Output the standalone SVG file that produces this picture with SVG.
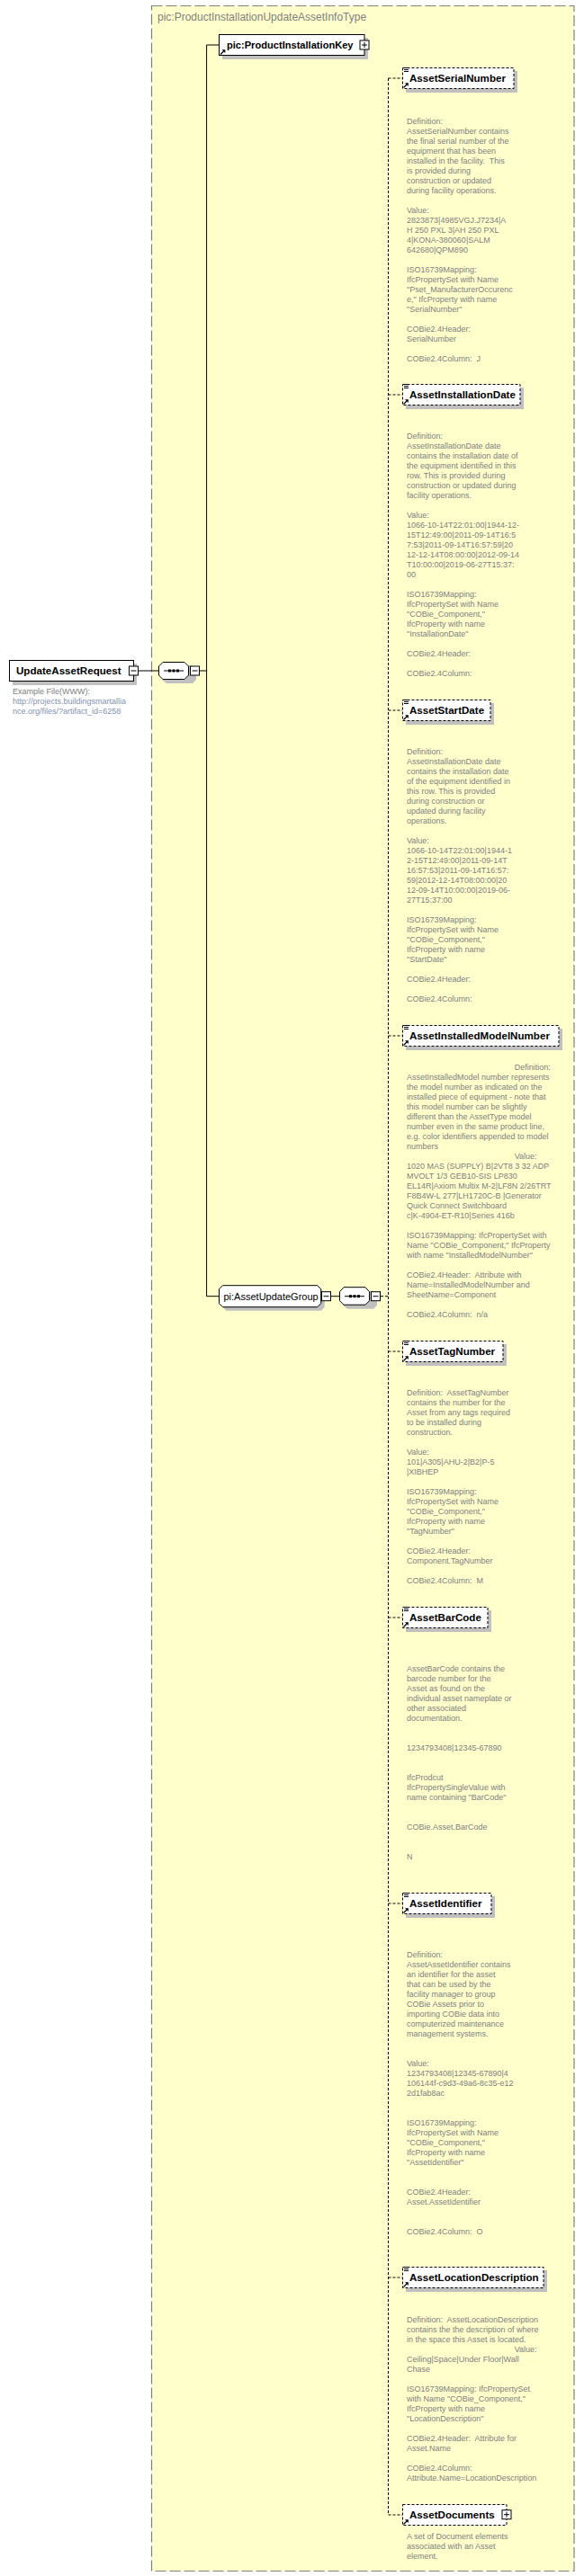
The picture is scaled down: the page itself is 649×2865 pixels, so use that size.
<svg xmlns="http://www.w3.org/2000/svg" xmlns:xlink="http://www.w3.org/1999/xlink" width="649" height="2865" viewBox="0 0 649 2865">
<style>
.d{font-family:"Liberation Sans",Arial,sans-serif;font-size:9px;fill:#808080}
.u{font-family:"Liberation Sans",Arial,sans-serif;font-size:9px;fill:#8393b3}
.n{font-family:"Liberation Sans",Arial,sans-serif;font-size:11.6px;font-weight:bold;fill:#000}
.g{font-family:"Liberation Sans",Arial,sans-serif;font-size:11px;fill:#000}
.t{font-family:"Liberation Sans",Arial,sans-serif;font-size:12px;fill:#808080}
.sh{fill:#c0c0c0}
.opt{fill:#fff;stroke:#000;stroke-width:1;stroke-dasharray:3,2}
.req{fill:#fff;stroke:#000;stroke-width:1}
.c{fill:none;stroke:#000;stroke-width:1}
.cd{fill:none;stroke:#000;stroke-width:1;stroke-dasharray:3,2}
</style>
<defs>
<g id="icoPlus"><rect x="0.5" y="0.5" width="10" height="10" fill="#fff" stroke="#000"/><path d="M2.5 5.5h6M5.5 2.5v6" stroke="#000"/></g>
<g id="icoMinus"><rect x="0.5" y="0.5" width="10" height="10" fill="#fff" stroke="#000"/><path d="M2.5 5.5h6" stroke="#000"/></g>
<g id="refArrow"><path d="M1 6.5L4.5 3" stroke="#000" stroke-width="1.2"/><path d="M2.5 1.2H6.3V5Z" fill="#000"/></g>
<g id="docIco"><path d="M0 0.5h5M0 2.5h5M0 4.5h5" stroke="#000" stroke-width="1"/></g>
</defs>

<rect id="typeBox" x="168.5" y="6.5" width="469.5" height="2853" fill="#ffffcc" stroke="#808080" stroke-width="1.2" stroke-dasharray="12,4"/>
<text class="t" x="175" y="23">pic:ProductInstallationUpdateAssetInfoType</text>

<g id="connectors">
<path class="c" d="M229.6 50V1441.7M229.6 50H243M229.6 1441.7H243.3M153.5 746H176M222 746H229.6M368 1441.7H377"/>
<path class="cd" d="M423 1441.7H431.5M431.5 87V2797M431.5 87H447M431.5 439H447M431.5 790H447M431.5 1152H447M431.5 1503H447M431.5 1799H447M431.5 2117H447M431.5 2533H447M431.5 2797H447"/>
</g>

<g id="UpdateAssetRequest">
<rect class="sh" x="14" y="738" width="138" height="24"/>
<rect class="req" x="10.5" y="734.5" width="138" height="23"/>
<text class="n" x="18" y="750.2">UpdateAssetRequest</text>
<use xlink:href="#icoMinus" x="143" y="740.5"/>
<text class="d" x="14" y="772.3">Example File(WWW):</text>
<text class="u" x="14" y="783.3">http://projects.buildingsmartallia</text>
<text class="u" x="14" y="794.3">nce.org/files/?artifact_id=6258</text>
</g>

<g id="seq1">
<path class="sh" d="M185 740H214L218 745V756L214 760H185L180 756V745Z"/>
<path class="req" d="M181 736.5H205L209.5 741V751L205 755.5H181L176.5 751V741Z"/>
<path d="M182 746H204" stroke="#000"/>
<rect x="187" y="744.5" width="3" height="3"/><rect x="191.5" y="744.5" width="3" height="3"/><rect x="196" y="744.5" width="3" height="3"/>
<use xlink:href="#icoMinus" x="211" y="740.5"/>
</g>

<g id="ProductInstallationKey">
<rect class="sh" x="247" y="42" width="162" height="24"/>
<rect class="req" x="243.5" y="38.5" width="161.5" height="23"/>
<text class="n" x="252" y="54.2" style="font-size:11.1px">pic:ProductInstallationKey</text>
<use xlink:href="#refArrow" x="244" y="54"/>
<use xlink:href="#icoPlus" x="399.5" y="44.5"/>
</g>

<g id="AssetUpdateGroup">
<path class="sh" d="M251.5 1433.7H356.7L360.7 1437.7V1453.7L356.7 1457.7H251.5L247.5 1453.7V1437.7Z"/>
<path class="req" d="M247.5 1429.7H352.7L356.7 1433.7V1449.7L352.7 1453.7H247.5L243.5 1449.7V1433.7Z"/>
<text class="g" x="248.5" y="1445.5">pi:AssetUpdateGroup</text>
<use xlink:href="#icoMinus" x="357" y="1436.2"/>
</g>

<g id="seq2">
<path class="sh" d="M386 1435.7H415L419 1440.7V1451.7L415 1455.7H386L381 1451.7V1440.7Z"/>
<path class="req" d="M382 1431.7H406L410.5 1436.7V1446.7L406 1451.2H382L377.5 1446.7V1436.7Z"/>
<path d="M383 1441.7H405" stroke="#000"/>
<rect x="388" y="1440.2" width="3" height="3"/><rect x="392.5" y="1440.2" width="3" height="3"/><rect x="397" y="1440.2" width="3" height="3"/>
<use xlink:href="#icoMinus" x="412" y="1436.2"/>
</g>

<g id="AssetSerialNumber">
<rect class="sh" x="451" y="79" width="124" height="24"/>
<rect class="opt" x="447.5" y="75.5" width="123.5" height="23"/>
<use xlink:href="#docIco" x="449" y="75"/>
<use xlink:href="#refArrow" x="447.5" y="91"/>
<text class="n" x="455" y="91.2">AssetSerialNumber</text>
<text class="d"><tspan x="452" y="138">Definition:</tspan><tspan x="452" y="149">AssetSerialNumber contains</tspan><tspan x="452" y="160">the final serial number of the</tspan><tspan x="452" y="171">equipment that has been</tspan><tspan x="452" y="182">installed in the facility.&#160; This</tspan><tspan x="452" y="193">is provided during</tspan><tspan x="452" y="204">construction or updated</tspan><tspan x="452" y="215">during facility operations.</tspan><tspan x="452" y="237">Value:</tspan><tspan x="452" y="248">2823873|4985VGJ.J7234|A</tspan><tspan x="452" y="259">H 250 PXL 3|AH 250 PXL</tspan><tspan x="452" y="270">4|KONA-380060|SALM</tspan><tspan x="452" y="281">642680|QPM890</tspan><tspan x="452" y="303">ISO16739Mapping:</tspan><tspan x="452" y="314">IfcPropertySet with Name</tspan><tspan x="452" y="325">"Pset_ManufacturerOccurenc</tspan><tspan x="452" y="336">e," IfcProperty with name</tspan><tspan x="452" y="347">"SerialNumber"</tspan><tspan x="452" y="369">COBie2.4Header:</tspan><tspan x="452" y="380">SerialNumber</tspan><tspan x="452" y="402">COBie2.4Column:&#160; J</tspan></text>
</g>

<g id="AssetInstallationDate">
<rect class="sh" x="451" y="431" width="131" height="24"/>
<rect class="opt" x="447.5" y="427.5" width="130.5" height="23"/>
<use xlink:href="#docIco" x="449" y="427"/>
<use xlink:href="#refArrow" x="447.5" y="443"/>
<text class="n" x="455" y="443.2">AssetInstallationDate</text>
<text class="d"><tspan x="452" y="488.3">Definition:</tspan><tspan x="452" y="499.3">AssetInstallationDate date</tspan><tspan x="452" y="510.3">contains the installation date of</tspan><tspan x="452" y="521.3">the equipment identified in this</tspan><tspan x="452" y="532.3">row. This is provided during</tspan><tspan x="452" y="543.3">construction or updated during</tspan><tspan x="452" y="554.3">facility operations.</tspan><tspan x="452" y="576.3">Value:</tspan><tspan x="452" y="587.3">1066-10-14T22:01:00|1944-12-</tspan><tspan x="452" y="598.3">15T12:49:00|2011-09-14T16:5</tspan><tspan x="452" y="609.3">7:53|2011-09-14T16:57:59|20</tspan><tspan x="452" y="620.3">12-12-14T08:00:00|2012-09-14</tspan><tspan x="452" y="631.3">T10:00:00|2019-06-27T15:37:</tspan><tspan x="452" y="642.3">00</tspan><tspan x="452" y="664.3">ISO16739Mapping:</tspan><tspan x="452" y="675.3">IfcPropertySet with Name</tspan><tspan x="452" y="686.3">"COBie_Component,"</tspan><tspan x="452" y="697.3">IfcProperty with name</tspan><tspan x="452" y="708.3">"InstallationDate"</tspan><tspan x="452" y="730.3">COBie2.4Header:</tspan><tspan x="452" y="752.3">COBie2.4Column:</tspan></text>
</g>

<g id="AssetStartDate">
<rect class="sh" x="451" y="782" width="98" height="24"/>
<rect class="opt" x="447.5" y="778.5" width="97.5" height="23"/>
<use xlink:href="#docIco" x="449" y="778"/>
<use xlink:href="#refArrow" x="447.5" y="794"/>
<text class="n" x="455" y="794.2">AssetStartDate</text>
<text class="d"><tspan x="452" y="838.6">Definition:</tspan><tspan x="452" y="849.6">AssetInstallationDate date</tspan><tspan x="452" y="860.6">contains the installation date</tspan><tspan x="452" y="871.6">of the equipment identified in</tspan><tspan x="452" y="882.6">this row. This is provided</tspan><tspan x="452" y="893.6">during construction or</tspan><tspan x="452" y="904.6">updated during facility</tspan><tspan x="452" y="915.6">operations.</tspan><tspan x="452" y="937.6">Value:</tspan><tspan x="452" y="948.6">1066-10-14T22:01:00|1944-1</tspan><tspan x="452" y="959.6">2-15T12:49:00|2011-09-14T</tspan><tspan x="452" y="970.6">16:57:53|2011-09-14T16:57:</tspan><tspan x="452" y="981.6">59|2012-12-14T08:00:00|20</tspan><tspan x="452" y="992.6">12-09-14T10:00:00|2019-06-</tspan><tspan x="452" y="1003.6">27T15:37:00</tspan><tspan x="452" y="1025.6">ISO16739Mapping:</tspan><tspan x="452" y="1036.6">IfcPropertySet with Name</tspan><tspan x="452" y="1047.6">"COBie_Component,"</tspan><tspan x="452" y="1058.6">IfcProperty with name</tspan><tspan x="452" y="1069.6">"StartDate"</tspan><tspan x="452" y="1091.6">COBie2.4Header:</tspan><tspan x="452" y="1113.6">COBie2.4Column:</tspan></text>
</g>

<g id="AssetInstalledModelNumber">
<rect class="sh" x="451" y="1144" width="174" height="24"/>
<rect class="opt" x="447.5" y="1140.5" width="173.5" height="23"/>
<use xlink:href="#docIco" x="449" y="1140"/>
<use xlink:href="#refArrow" x="447.5" y="1156"/>
<text class="n" x="455" y="1156.2">AssetInstalledModelNumber</text>
<text class="d"><tspan x="571.7" y="1190.3">Definition:</tspan><tspan x="452" y="1201.3">AssetInstalledModel number represents</tspan><tspan x="452" y="1212.3">the model number as indicated on the</tspan><tspan x="452" y="1223.3">installed piece of equipment - note that</tspan><tspan x="452" y="1234.3">this model number can be slightly</tspan><tspan x="452" y="1245.3">different than the AssetType model</tspan><tspan x="452" y="1256.3">number even in the same product line,</tspan><tspan x="452" y="1267.3">e.g. color identifiers appended to model</tspan><tspan x="452" y="1278.3">numbers</tspan><tspan x="571.7" y="1289.3">Value:</tspan><tspan x="452" y="1300.3">1020 MAS (SUPPLY) B|2VT8 3 32 ADP</tspan><tspan x="452" y="1311.3">MVOLT 1/3 GEB10-SIS LP830</tspan><tspan x="452" y="1322.3">EL14R|Axiom Multix M-2|LF8N 2/26TRT</tspan><tspan x="452" y="1333.3">F8B4W-L 277|LH1720C-B |Generator</tspan><tspan x="452" y="1344.3">Quick Connect Switchboard</tspan><tspan x="452" y="1355.3">c|K-4904-ET-R10|Series 416b</tspan><tspan x="452" y="1377.3">ISO16739Mapping: IfcPropertySet with</tspan><tspan x="452" y="1388.3">Name "COBie_Component," IfcProperty</tspan><tspan x="452" y="1399.3">with name "InstalledModelNumber"</tspan><tspan x="452" y="1421.3">COBie2.4Header:&#160; Attribute with</tspan><tspan x="452" y="1432.3">Name=InstalledModelNumber and</tspan><tspan x="452" y="1443.3">SheetName=Component</tspan><tspan x="452" y="1465.3">COBie2.4Column:&#160; n/a</tspan></text>
</g>

<g id="AssetTagNumber">
<rect class="sh" x="451" y="1495" width="112" height="24"/>
<rect class="opt" x="447.5" y="1491.5" width="111.5" height="23"/>
<use xlink:href="#docIco" x="449" y="1491"/>
<use xlink:href="#refArrow" x="447.5" y="1507"/>
<text class="n" x="455" y="1507.2">AssetTagNumber</text>
<text class="d"><tspan x="452" y="1552">Definition:&#160; AssetTagNumber</tspan><tspan x="452" y="1563">contains the number for the</tspan><tspan x="452" y="1574">Asset from any tags required</tspan><tspan x="452" y="1585">to be installed during</tspan><tspan x="452" y="1596">construction.</tspan><tspan x="452" y="1618">Value:</tspan><tspan x="452" y="1629">101|A305|AHU-2|B2|P-5</tspan><tspan x="452" y="1640">|XIBHEP</tspan><tspan x="452" y="1662">ISO16739Mapping:</tspan><tspan x="452" y="1673">IfcPropertySet with Name</tspan><tspan x="452" y="1684">"COBie_Component,"</tspan><tspan x="452" y="1695">IfcProperty with name</tspan><tspan x="452" y="1706">"TagNumber"</tspan><tspan x="452" y="1728">COBie2.4Header:</tspan><tspan x="452" y="1739">Component.TagNumber</tspan><tspan x="452" y="1761">COBie2.4Column:&#160; M</tspan></text>
</g>

<g id="AssetBarCode">
<rect class="sh" x="451" y="1791" width="95" height="24"/>
<rect class="opt" x="447.5" y="1787.5" width="94.5" height="23"/>
<use xlink:href="#docIco" x="449" y="1787"/>
<use xlink:href="#refArrow" x="447.5" y="1803"/>
<text class="n" x="455" y="1803.2">AssetBarCode</text>
<text class="d"><tspan x="452" y="1859.3">AssetBarCode contains the</tspan><tspan x="452" y="1870.3">barcode number for the</tspan><tspan x="452" y="1881.3">Asset as found on the</tspan><tspan x="452" y="1892.3">individual asset nameplate or</tspan><tspan x="452" y="1903.3">other associated</tspan><tspan x="452" y="1914.3">documentation.</tspan><tspan x="452" y="1947.3">1234793408|12345-67890</tspan><tspan x="452" y="1980.3">IfcProdcut</tspan><tspan x="452" y="1991.3">IfcPropertySingleValue with</tspan><tspan x="452" y="2002.3">name containing "BarCode"</tspan><tspan x="452" y="2035.3">COBie.Asset.BarCode</tspan><tspan x="452" y="2068.3">N</tspan></text>
</g>

<g id="AssetIdentifier">
<rect class="sh" x="451" y="2109" width="99" height="24"/>
<rect class="opt" x="447.5" y="2105.5" width="98.5" height="23"/>
<use xlink:href="#docIco" x="449" y="2105"/>
<use xlink:href="#refArrow" x="447.5" y="2121"/>
<text class="n" x="455" y="2121.2">AssetIdentifier</text>
<text class="d"><tspan x="452" y="2177.3">Definition:</tspan><tspan x="452" y="2188.3">AssetAssetIdentifier contains</tspan><tspan x="452" y="2199.3">an identifier for the asset</tspan><tspan x="452" y="2210.3">that can be used by the</tspan><tspan x="452" y="2221.3">facility manager to group</tspan><tspan x="452" y="2232.3">COBie Assets prior to</tspan><tspan x="452" y="2243.3">importing COBie data into</tspan><tspan x="452" y="2254.3">computerized maintenance</tspan><tspan x="452" y="2265.3">management systems.</tspan><tspan x="452" y="2298.3">Value:</tspan><tspan x="452" y="2309.3">1234793408|12345-67890|4</tspan><tspan x="452" y="2320.3">106144f-c9d3-49a6-8c35-e12</tspan><tspan x="452" y="2331.3">2d1fab8ac</tspan><tspan x="452" y="2364.3">ISO16739Mapping:</tspan><tspan x="452" y="2375.3">IfcPropertySet with Name</tspan><tspan x="452" y="2386.3">"COBie_Component,"</tspan><tspan x="452" y="2397.3">IfcProperty with name</tspan><tspan x="452" y="2408.3">"AssetIdentifier"</tspan><tspan x="452" y="2441.3">COBie2.4Header:</tspan><tspan x="452" y="2452.3">Asset.AssetIdentifier</tspan><tspan x="452" y="2485.3">COBie2.4Column:&#160; O</tspan></text>
</g>

<g id="AssetLocationDescription">
<rect class="sh" x="451" y="2525" width="157" height="24"/>
<rect class="opt" x="447.5" y="2521.5" width="156.5" height="23"/>
<use xlink:href="#docIco" x="449" y="2521"/>
<use xlink:href="#refArrow" x="447.5" y="2537"/>
<text class="n" x="455" y="2537.2">AssetLocationDescription</text>
<text class="d"><tspan x="452" y="2583.3">Definition:&#160; AssetLocationDescription</tspan><tspan x="452" y="2594.3">contains the the description of where</tspan><tspan x="452" y="2605.3">in the space this Asset is located.</tspan><tspan x="571.7" y="2616.3">Value:</tspan><tspan x="452" y="2627.3">Ceiling|Space|Under Floor|Wall</tspan><tspan x="452" y="2638.3">Chase</tspan><tspan x="452" y="2660.3">ISO16739Mapping: IfcPropertySet</tspan><tspan x="452" y="2671.3">with Name "COBie_Component,"</tspan><tspan x="452" y="2682.3">IfcProperty with name</tspan><tspan x="452" y="2693.3">"LocationDescription"</tspan><tspan x="452" y="2715.3">COBie2.4Header:&#160; Attribute for</tspan><tspan x="452" y="2726.3">Asset.Name</tspan><tspan x="452" y="2748.3">COBie2.4Column:</tspan><tspan x="452" y="2759.3">Attribute.Name=LocationDescription</tspan></text>
</g>

<g id="AssetDocuments">
<rect class="opt" x="447.5" y="2785.5" width="115.5" height="23"/>
<use xlink:href="#refArrow" x="447.5" y="2801"/>
<text class="n" x="455" y="2801.2">AssetDocuments</text>
<use xlink:href="#icoPlus" x="557.5" y="2791.2"/>
<text class="d"><tspan x="452" y="2824">A set of Document elements</tspan><tspan x="452" y="2835">associated with an Asset</tspan><tspan x="452" y="2846">element.</tspan></text>
</g>
</svg>
